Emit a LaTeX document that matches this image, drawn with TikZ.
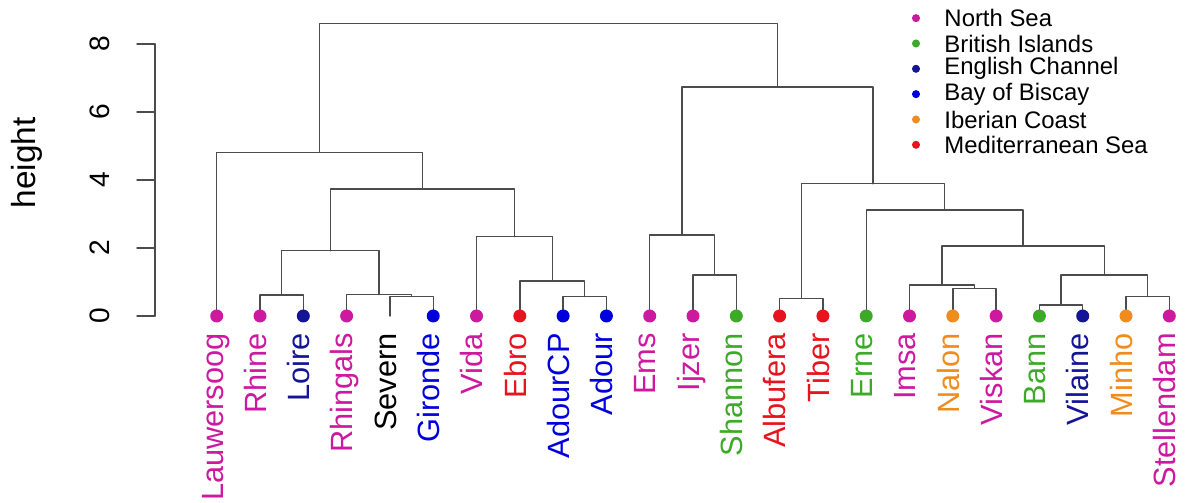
\documentclass[tikz,border=0pt]{standalone}
\usepackage{fontspec}
\setmainfont{Liberation Sans}
\definecolor{nsea}{RGB}{205,25,160}
\definecolor{brit}{RGB}{60,170,40}
\definecolor{echan}{RGB}{20,20,150}
\definecolor{biscay}{RGB}{0,0,220}
\definecolor{iber}{RGB}{240,140,30}
\definecolor{medit}{RGB}{230,20,30}
\begin{document}
\begin{tikzpicture}[x=0.866cm, y=0.68cm, line join=round, line cap=round,
	branch/.style={draw=black!70, line width=0.8pt},
	leaflab/.style={rotate=90, anchor=east, inner sep=0pt, text height=0.716em, text depth=0pt,
		font=\fontsize{17.5}{20}\selectfont},
	ticklab/.style={rotate=90, inner sep=0pt, font=\fontsize{16}{18}\selectfont},
	keylab/.style={anchor=west, inner sep=0pt, font=\fontsize{13.6}{15}\selectfont}]
	\useasboundingbox (-4.005,-5.5) rectangle (23.386,9.294);
	% leaves and their labels
	\foreach \n/\c [count=\i] in {Lauwersoog/nsea, Rhine/nsea, Loire/echan, Rhingals/nsea,
		Severn/black, Gironde/biscay, Vida/nsea, Ebro/medit, AdourCP/biscay, Adour/biscay,
		Ems/nsea, Ijzer/nsea, Shannon/brit, Albufera/medit, Tiber/medit, Erne/brit, Imsa/nsea,
		Nalon/iber, Viskan/nsea, Bann/brit, Vilaine/echan, Minho/iber, Stellendam/nsea}
		{\coordinate (\n) at (\i,0);
		\node[leaflab, text=\c] (lab\i) at (\i,-0.5) {\n};}
	% merges
	\path
		(2.5,0.62) coordinate (RhLo)
		(5.5,0.57) coordinate (SeGi)
		(4.75,0.63) coordinate (RgSG)
		(3.625,1.92) coordinate (A2)
		(9.5,0.57) coordinate (AdAd)
		(8.75,1.03) coordinate (EbAd)
		(7.875,2.33) coordinate (A3)
		(5.75,3.74) coordinate (A1)
		(3.375,4.81) coordinate (A)
		(12.5,1.21) coordinate (IjSh)
		(11.75,2.38) coordinate (B1)
		(14.5,0.52) coordinate (AlTi)
		(18.5,0.81) coordinate (NaVi)
		(17.75,0.91) coordinate (B5)
		(20.5,0.32) coordinate (BaVi)
		(22.5,0.57) coordinate (MiSt)
		(21.5,1.21) coordinate (B6)
		(19.625,2.06) coordinate (B4)
		(17.8125,3.12) coordinate (B3)
		(16.15625,3.89) coordinate (B2)
		(13.953,6.73) coordinate (B)
		(8.664,8.61) coordinate (root);
	\foreach \p/\a/\b in {RhLo/Rhine/Loire, SeGi/Severn/Gironde, RgSG/Rhingals/SeGi, A2/RhLo/RgSG,
		AdAd/AdourCP/Adour, EbAd/Ebro/AdAd, A3/Vida/EbAd, A1/A2/A3, A/Lauwersoog/A1,
		IjSh/Ijzer/Shannon, B1/Ems/IjSh, AlTi/Albufera/Tiber, NaVi/Nalon/Viskan, B5/Imsa/NaVi,
		BaVi/Bann/Vilaine, MiSt/Minho/Stellendam, B6/BaVi/MiSt, B4/B5/B6, B3/Erne/B4,
		B2/AlTi/B3, B/B1/B2, root/A/B}
		\draw[branch] (\a) |- (\p) -| (\b);
	\foreach \n/\c in {Lauwersoog/nsea, Rhine/nsea, Loire/echan, Rhingals/nsea, Gironde/biscay,
		Vida/nsea, Ebro/medit, AdourCP/biscay, Adour/biscay, Ems/nsea, Ijzer/nsea, Shannon/brit,
		Albufera/medit, Tiber/medit, Erne/brit, Imsa/nsea, Nalon/iber, Viskan/nsea, Bann/brit,
		Vilaine/echan, Minho/iber, Stellendam/nsea}
		\fill[\c] (\n) circle (3.7pt);
	% axis
	\draw[branch] (-0.425,0) coordinate (ax0) -- (-0.425,8) coordinate (ax8);
	\foreach \v in {0,2,4,6,8}
		{\draw[branch] (-0.425,\v) coordinate (tk\v) -- (-0.841,\v);
		\node[ticklab] (tl\v) at (-1.695,\v) {\v};}
	\node[rotate=90, inner sep=0pt, font=\fontsize{19}{22}\selectfont] (ylab) at (-3.38,4.5) {height};
	% legend
	\foreach \t/\c [count=\k] in {North Sea/nsea, British Islands/brit, English Channel/echan,
		Bay of Biscay/biscay, Iberian Coast/iber, Mediterranean Sea/medit}
		{\fill[\c] (17.15,9.505-0.745*\k) circle (2.3pt);
		\node[keylab] (key\k) at (17.80,9.505-0.745*\k) {\t};}
\end{tikzpicture}
\end{document}
